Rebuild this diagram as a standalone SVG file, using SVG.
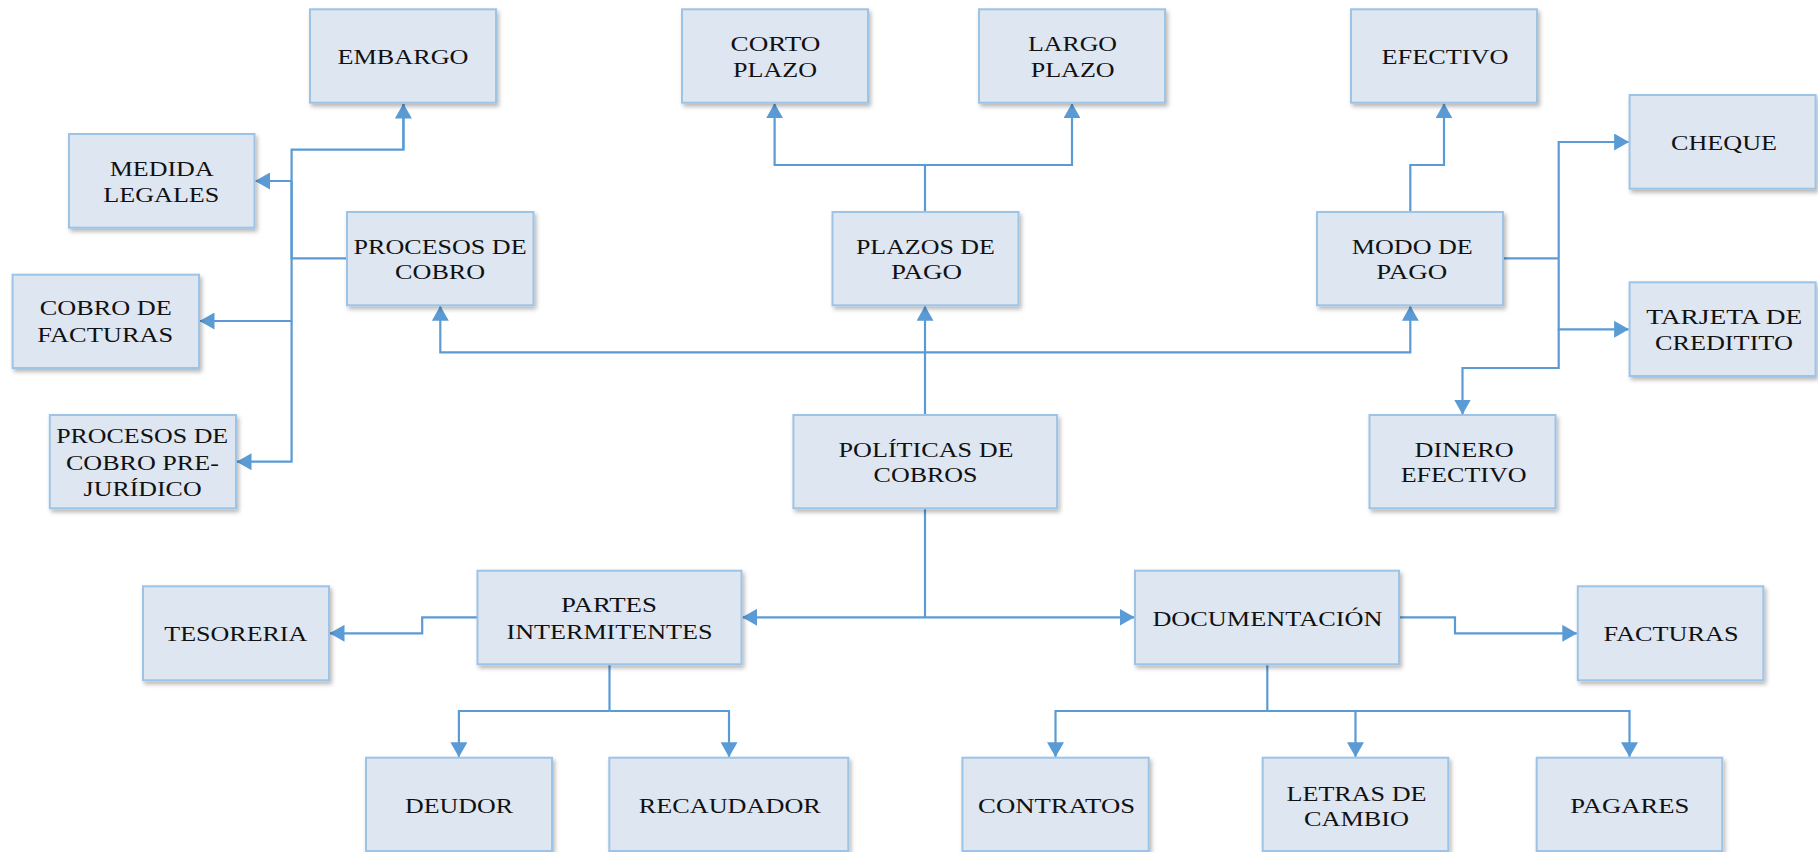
<svg xmlns="http://www.w3.org/2000/svg" width="1818" height="852" viewBox="0 0 1818 852">
  <style>
    .box { fill: #DEE6F2; stroke: #9DC3E6; stroke-width: 2; filter: url(#shadow); }
    .lbl { font-family: "Liberation Serif", "Times New Roman", serif; font-size: 22px; fill: #111111; text-anchor: middle; }
    .wire { fill: none; stroke: #5B9BD5; stroke-width: 2.2; }
    .arr { marker-end: url(#head); }
    .both { marker-start: url(#head); marker-end: url(#head); }
  </style>
  <defs>
    <filter id="shadow" x="-10%" y="-10%" width="130%" height="130%">
      <feDropShadow dx="2" dy="3" stdDeviation="2" flood-color="#000000" flood-opacity="0.28"/>
    </filter>
    <marker id="head" viewBox="0 0 15 17" markerUnits="userSpaceOnUse" markerWidth="15" markerHeight="17" refX="14.5" refY="8.5" orient="auto-start-reverse">
      <path d="M0,0 L15,8.5 L0,17 Z" fill="#5B9BD5"/>
    </marker>
  </defs>

  <rect width="1818" height="852" fill="#FFFFFF"/>

  <!-- connectors -->
  <g id="connectors">
    <!-- collection processes branch -->
    <path class="wire" d="M347,258.3 H291.6 V149.7 H403.4 V104"/>
    <path class="wire arr" d="M403.4,149.7 V104"/>
    <path class="wire arr" d="M291.6,181 H255.5"/>
    <path class="wire arr" d="M291.6,181 V321 H200"/>
    <path class="wire arr" d="M291.6,321 V461.7 H237"/>
    <!-- central policy trunk -->
    <path class="wire arr" d="M925,415 V306.3"/>
    <path class="wire arr" d="M925,352.3 H440.3 V306.3"/>
    <path class="wire arr" d="M925,352.3 H1410.3 V306.3"/>
    <!-- payment terms -->
    <path class="wire arr" d="M925,212 V165 H774.6 V103.7"/>
    <path class="wire arr" d="M925,165 H1072 V103.7"/>
    <!-- payment mode -->
    <path class="wire arr" d="M1410.3,212 V165 H1444 V103.7"/>
    <path class="wire" d="M1503,258.3 H1558.7"/>
    <path class="wire arr" d="M1558.7,258.3 V142 H1628.6"/>
    <path class="wire arr" d="M1558.7,258.3 V329.3 H1628.6"/>
    <path class="wire arr" d="M1558.7,329.3 V368 H1462.5 V414"/>
    <!-- lower trunk -->
    <path class="wire" d="M925,508.3 V617.3"/>
    <path class="wire both" d="M742.6,617.3 H1134"/>
    <!-- intermediaries -->
    <path class="wire arr" d="M477.5,617.3 H422.2 V633.3 H330"/>
    <path class="wire" d="M609.5,664.3 V711"/>
    <path class="wire arr" d="M609.5,711 H458.9 V756.7"/>
    <path class="wire arr" d="M609.5,711 H729 V756.7"/>
    <!-- documentation -->
    <path class="wire arr" d="M1399,617.3 H1455 V633.3 H1576.8"/>
    <path class="wire" d="M1267.3,664.3 V711"/>
    <path class="wire arr" d="M1267.3,711 H1055.5 V756.7"/>
    <path class="wire arr" d="M1267.3,711 H1355.5 V756.7"/>
    <path class="wire arr" d="M1267.3,711 H1629.5 V756.7"/>
  </g>

  <!-- top row -->
  <g id="embargo">
    <rect class="box" x="310" y="9.3" width="186" height="93.4"/>
    <text class="lbl" x="403" y="63.5" textLength="131" lengthAdjust="spacingAndGlyphs">EMBARGO</text>
  </g>
  <g id="corto-plazo">
    <rect class="box" x="682" y="9.3" width="186" height="93.4"/>
    <text class="lbl" x="775.5" y="50.7" textLength="90" lengthAdjust="spacingAndGlyphs">CORTO</text>
    <text class="lbl" x="775" y="76.7" textLength="84" lengthAdjust="spacingAndGlyphs">PLAZO</text>
  </g>
  <g id="largo-plazo">
    <rect class="box" x="979" y="9.3" width="186" height="93.4"/>
    <text class="lbl" x="1072.5" y="50.7" textLength="89" lengthAdjust="spacingAndGlyphs">LARGO</text>
    <text class="lbl" x="1072.7" y="76.7" textLength="84" lengthAdjust="spacingAndGlyphs">PLAZO</text>
  </g>
  <g id="efectivo">
    <rect class="box" x="1351" y="9.3" width="186" height="93.4"/>
    <text class="lbl" x="1445" y="63.5" textLength="127" lengthAdjust="spacingAndGlyphs">EFECTIVO</text>
  </g>
  <g id="cheque">
    <rect class="box" x="1629.6" y="95" width="186" height="93.7"/>
    <text class="lbl" x="1724" y="149.5" textLength="106" lengthAdjust="spacingAndGlyphs">CHEQUE</text>
  </g>
  <g id="medida-legales">
    <rect class="box" x="69" y="134" width="185.5" height="93.7"/>
    <text class="lbl" x="161.7" y="175.6" textLength="104" lengthAdjust="spacingAndGlyphs">MEDIDA</text>
    <text class="lbl" x="161.3" y="201.6" textLength="116" lengthAdjust="spacingAndGlyphs">LEGALES</text>
  </g>

  <!-- second row -->
  <g id="procesos-de-cobro">
    <rect class="box" x="347" y="212" width="186.5" height="93.3"/>
    <text class="lbl" x="440.1" y="254" textLength="173" lengthAdjust="spacingAndGlyphs">PROCESOS DE</text>
    <text class="lbl" x="440.1" y="279.3" textLength="90" lengthAdjust="spacingAndGlyphs">COBRO</text>
  </g>
  <g id="plazos-de-pago">
    <rect class="box" x="832.5" y="212" width="186" height="93.3"/>
    <text class="lbl" x="925.4" y="254" textLength="139" lengthAdjust="spacingAndGlyphs">PLAZOS DE</text>
    <text class="lbl" x="926.4" y="279.3" textLength="71" lengthAdjust="spacingAndGlyphs">PAGO</text>
  </g>
  <g id="modo-de-pago">
    <rect class="box" x="1317" y="212" width="186" height="93.3"/>
    <text class="lbl" x="1412.3" y="254" textLength="121" lengthAdjust="spacingAndGlyphs">MODO DE</text>
    <text class="lbl" x="1411.7" y="279.3" textLength="71" lengthAdjust="spacingAndGlyphs">PAGO</text>
  </g>
  <g id="cobro-de-facturas">
    <rect class="box" x="12.6" y="274.7" width="186.4" height="93.3"/>
    <text class="lbl" x="105.7" y="315.4" textLength="132" lengthAdjust="spacingAndGlyphs">COBRO DE</text>
    <text class="lbl" x="105.3" y="342.2" textLength="136" lengthAdjust="spacingAndGlyphs">FACTURAS</text>
  </g>
  <g id="tarjeta-de-credito">
    <rect class="box" x="1629.6" y="282.3" width="186" height="93.7"/>
    <text class="lbl" x="1724.3" y="323.5" textLength="156" lengthAdjust="spacingAndGlyphs">TARJETA DE</text>
    <text class="lbl" x="1723.9" y="349.8" textLength="138" lengthAdjust="spacingAndGlyphs">CREDITITO</text>
  </g>

  <!-- third row -->
  <g id="procesos-pre-juridico">
    <rect class="box" x="49.8" y="415" width="186.2" height="93.3"/>
    <text class="lbl" x="142.2" y="443.2" textLength="172" lengthAdjust="spacingAndGlyphs">PROCESOS DE</text>
    <text class="lbl" x="142.4" y="469.9" textLength="153" lengthAdjust="spacingAndGlyphs">COBRO PRE-</text>
    <text class="lbl" x="142.6" y="496.2" textLength="118" lengthAdjust="spacingAndGlyphs">JURÍDICO</text>
  </g>
  <g id="politicas-de-cobros">
    <rect class="box" x="793.4" y="415" width="263.7" height="93.3"/>
    <text class="lbl" x="926" y="456.8" textLength="175" lengthAdjust="spacingAndGlyphs">POLÍTICAS DE</text>
    <text class="lbl" x="925.6" y="482.2" textLength="104" lengthAdjust="spacingAndGlyphs">COBROS</text>
  </g>
  <g id="dinero-efectivo">
    <rect class="box" x="1369.5" y="415" width="186" height="93.3"/>
    <text class="lbl" x="1464.1" y="456.8" textLength="99" lengthAdjust="spacingAndGlyphs">DINERO</text>
    <text class="lbl" x="1463.7" y="482.2" textLength="126" lengthAdjust="spacingAndGlyphs">EFECTIVO</text>
  </g>

  <!-- fourth row -->
  <g id="tesoreria">
    <rect class="box" x="143" y="586.3" width="186" height="94"/>
    <text class="lbl" x="235.8" y="641" textLength="143" lengthAdjust="spacingAndGlyphs">TESORERIA</text>
  </g>
  <g id="partes-intermitentes">
    <rect class="box" x="477.5" y="570.7" width="264" height="93.6"/>
    <text class="lbl" x="609" y="612.2" textLength="96" lengthAdjust="spacingAndGlyphs">PARTES</text>
    <text class="lbl" x="609.5" y="638.9" textLength="206" lengthAdjust="spacingAndGlyphs">INTERMITENTES</text>
  </g>
  <g id="documentacion">
    <rect class="box" x="1135" y="570.7" width="264" height="93.6"/>
    <text class="lbl" x="1267.4" y="626.3" textLength="230" lengthAdjust="spacingAndGlyphs">DOCUMENTACIÓN</text>
  </g>
  <g id="facturas">
    <rect class="box" x="1577.8" y="586.3" width="185.6" height="94"/>
    <text class="lbl" x="1671" y="641" textLength="135" lengthAdjust="spacingAndGlyphs">FACTURAS</text>
  </g>

  <!-- bottom row -->
  <g id="deudor">
    <rect class="box" x="366" y="757.7" width="186" height="93.3"/>
    <text class="lbl" x="459" y="813" textLength="108" lengthAdjust="spacingAndGlyphs">DEUDOR</text>
  </g>
  <g id="recaudador">
    <rect class="box" x="609.3" y="757.7" width="239" height="93.3"/>
    <text class="lbl" x="729.8" y="813" textLength="182" lengthAdjust="spacingAndGlyphs">RECAUDADOR</text>
  </g>
  <g id="contratos">
    <rect class="box" x="962.4" y="757.7" width="186.3" height="93.3"/>
    <text class="lbl" x="1056.6" y="813" textLength="157" lengthAdjust="spacingAndGlyphs">CONTRATOS</text>
  </g>
  <g id="letras-de-cambio">
    <rect class="box" x="1262.7" y="757.7" width="185.6" height="93.3"/>
    <text class="lbl" x="1356.5" y="800.5" textLength="140" lengthAdjust="spacingAndGlyphs">LETRAS DE</text>
    <text class="lbl" x="1356.5" y="826.2" textLength="105" lengthAdjust="spacingAndGlyphs">CAMBIO</text>
  </g>
  <g id="pagares">
    <rect class="box" x="1536.7" y="757.7" width="185.5" height="93.3"/>
    <text class="lbl" x="1629.8" y="813" textLength="119" lengthAdjust="spacingAndGlyphs">PAGARES</text>
  </g>
</svg>
